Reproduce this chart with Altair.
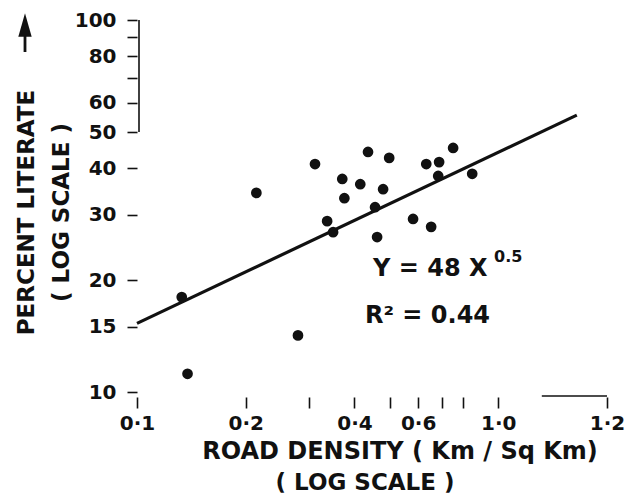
import altair as alt
import pandas as pd

# ---- data ----
road_density = [0.133, 0.138, 0.214, 0.279, 0.311, 0.336, 0.349, 0.370, 0.375, 0.415, 0.436,
                0.456, 0.462, 0.480, 0.499, 0.581, 0.632, 0.652, 0.686, 0.682, 0.750, 0.847]
percent_literate = [18.0, 11.2, 34.3, 14.2, 41.0, 28.8, 26.9, 37.4, 33.2, 36.2, 44.2,
                    31.4, 26.1, 35.1, 42.6, 29.2, 41.0, 27.8, 41.5, 38.1, 45.3, 38.6]
fit_x = [0.1, 1.65]
fit_y = [15.3, 55.5]

x_tick_values = [0.1, 0.2, 0.3, 0.4, 0.5, 0.6, 0.7, 0.8, 1.0, 2.0]
x_tick_labels = ["0·1", "0·2", "", "0·4", "", "0·6", "", "", "1·0", "1·2"]
y_tick_values = [10, 15, 20, 30, 40, 50, 60, 70, 80, 90, 100]
y_tick_labels = ["10", "15", "20", "30", "40", "50", "60", "", "80", "", "100"]

FONT = "DejaVu Sans"
INK = "#111111"


def label_expr(values, labels):
    expr = "''"
    for v, lab in reversed(list(zip(values, labels))):
        expr = f"abs(datum.value - {v}) < 1e-6 ? '{lab}' : ({expr})"
    return expr


pts = pd.DataFrame({"x": road_density, "y": percent_literate})
fit = pd.DataFrame({"x": fit_x, "y": fit_y})
dummy = pd.DataFrame({"a": [0]})

xscale = alt.Scale(type="log", domain=[0.1, 2.0], nice=False)
yscale = alt.Scale(type="log", domain=[9.7, 100], nice=False)

x_axis = alt.Axis(values=x_tick_values, labelExpr=label_expr(x_tick_values, x_tick_labels),
                  domain=False, grid=False, tickSize=11, tickWidth=1.6, tickColor=INK,
                  labelFont=FONT, labelFontSize=20, labelFontWeight="bold", labelColor=INK,
                  labelPadding=5, labelFlush=False, labelOverlap=False, title=None)
y_axis = alt.Axis(values=y_tick_values, labelExpr=label_expr(y_tick_values, y_tick_labels),
                  domain=False, grid=False, tickSize=10, tickWidth=1.6, tickColor=INK,
                  labelFont=FONT, labelFontSize=20, labelFontWeight="bold", labelColor=INK,
                  labelPadding=11, labelFlush=False, labelOverlap=False,
                  title=["PERCENT LITERATE", "( LOG SCALE )"], titleFont=FONT,
                  titleFontSize=23, titleFontWeight="bold", titleColor=INK,
                  titleAlign="center", titleBaseline="top", titleX=-122, titleY=192,
                  titleLineHeight=35)

points = alt.Chart(pts).mark_circle(size=115, color=INK, opacity=1).encode(
    x=alt.X("x:Q", scale=xscale, axis=x_axis),
    y=alt.Y("y:Q", scale=yscale, axis=y_axis),
)
line = alt.Chart(fit).mark_line(color=INK, strokeWidth=3.2).encode(
    x=alt.X("x:Q", scale=xscale), y=alt.Y("y:Q", scale=yscale))

y_seg = alt.Chart(dummy).mark_rule(color=INK, strokeWidth=1.6).encode(
    x=alt.value(2), y=alt.datum(50), y2=alt.datum(100))
x_seg = alt.Chart(dummy).mark_rule(color=INK, strokeWidth=1.6).encode(
    x=alt.datum(1.32), x2=alt.datum(2.0), y=alt.value(376))

arrow_shaft = alt.Chart(dummy).mark_rule(color=INK, strokeWidth=2.8).encode(
    x=alt.value(-112), y=alt.value(10), y2=alt.value(32))
arrow_head = alt.Chart(dummy).mark_point(
    shape="M0,-1.6L0.9,1.6L-0.9,1.6Z", filled=True, size=220, color=INK, opacity=1
).encode(x=alt.value(-112), y=alt.value(5))


def txt(s, x, y, size, weight="normal", align="left"):
    return alt.Chart(dummy).mark_text(
        text=s, font=FONT, fontSize=size, fontWeight=weight, align=align,
        baseline="alphabetic", color=INK
    ).encode(x=alt.value(x), y=alt.value(y))


eq1 = txt("Y = 48 X", 236, 256, 24, "bold")
eq1sup = txt("0.5", 357, 242, 16, "bold")
eq2 = txt("R² = 0.44", 228, 303, 24, "bold")
xt1 = txt("ROAD DENSITY ( Km / Sq Km)", 263, 439, 24, "bold", "center")
xt2 = txt("( LOG SCALE )", 228, 470, 23, "bold", "center")

chart = alt.layer(
    line, points, y_seg, x_seg, arrow_shaft, arrow_head, eq1, eq1sup, eq2, xt1, xt2
).properties(
    width=470, height=377,
    autosize=alt.AutoSizeParams(type="none"),
    padding={"left": 137, "top": 20, "right": 26, "bottom": 102},
    background="white",
).configure_view(strokeWidth=0)

chart.save("out.html", embed_options={"renderer": "svg", "actions": False})
